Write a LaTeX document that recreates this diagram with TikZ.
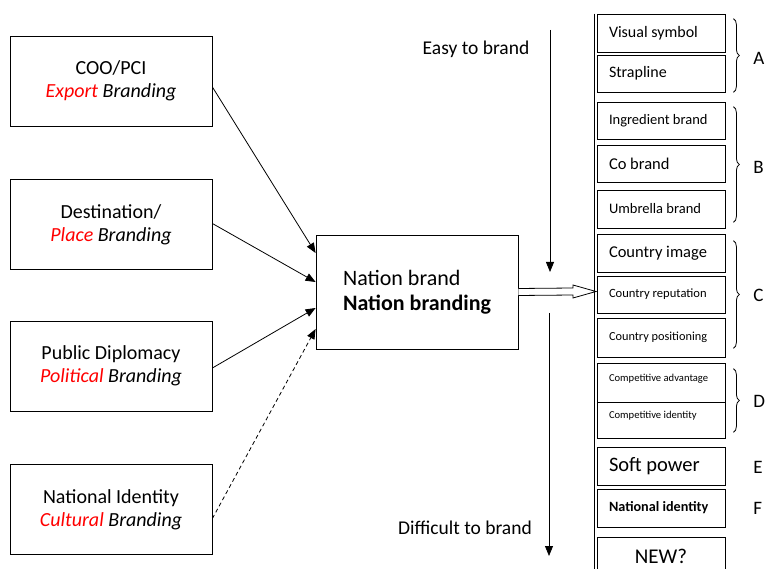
\documentclass[tikz,border=0pt]{standalone}
\usepackage{fontspec}
\setmainfont{Carlito}
\usetikzlibrary{arrows.meta,calc,decorations.pathreplacing}
\definecolor{BrandRed}{rgb}{1,0,0}

\begin{document}
\begin{tikzpicture}[x=1pt,y=-1pt,line width=0.8pt,
  src/.style={draw,minimum width=202pt,minimum height=90pt,align=center,font=\fontsize{20}{23}\selectfont},
  cell/.style={draw,minimum width=128pt,minimum height=38pt,text width=104pt,inner xsep=12pt,align=flush left},
  feed/.style={-{Triangle[length=10pt,width=8pt]}},
  grp/.style={decorate,decoration={brace,amplitude=6pt}},
  tag/.style={anchor=west,inner sep=0pt,font=\fontsize{19}{19}\selectfont}]
\useasboundingbox (0,0) rectangle (766,569);

% sources
\node[src] (coo) at (111,81) {COO/PCI\\\textcolor{BrandRed}{\textit{Export}} \textit{Branding}};
\node[src] (dest) at (111,224.5) {Destination/\\\textcolor{BrandRed}{\textit{Place}} \textit{Branding}};
\node[src] (dipl) at (111,366) {Public Diplomacy\\\textcolor{BrandRed}{\textit{Political}} \textit{Branding}};
\node[src] (natid) at (111,509.5) {National Identity\\\textcolor{BrandRed}{\textit{Cultural}} \textit{Branding}};

\node[draw,minimum width=202pt,minimum height=114pt,align=left,font=\fontsize{22}{25}\selectfont] (nb) at (417,292) {Nation brand\\\textbf{Nation branding}};

\draw[feed] ([yshift=-6pt]coo.east) -- ([yshift=39pt]nb.west);
\draw[feed] ([yshift=1pt]dest.east) -- ([yshift=10pt]nb.west);
\draw[feed] ([yshift=-2pt]dipl.east) -- ([yshift=-16pt]nb.west);
\draw[feed,dashed,dash pattern=on 4pt off 3pt] ([yshift=-9pt]natid.east) -- ([yshift=-37pt]nb.west);

% easy / difficult
\coordinate (e0) at (550,30);
\coordinate (e1) at (550,272);
\coordinate (d0) at (549,313);
\coordinate (d1) at (549,556);
\draw[feed] (e0) -- (e1);
\draw[feed] (d0) -- (d1);
\node[font=\fontsize{19.5}{20}\selectfont] (easy) at (476,49) {Easy to brand};
\node[font=\fontsize{19.5}{20}\selectfont] (hard) at (465,528) {Difficult to brand};

% stack
\node[cell,font=\fontsize{16}{16}\selectfont] (vs) at (661,33) {Visual symbol};
\node[cell,font=\fontsize{16}{16}\selectfont,minimum height=37pt] (sl) at (661,73.5) {Strapline};
\node[cell,font=\fontsize{14.5}{15}\selectfont,minimum height=37pt] (ib) at (661,120.5) {Ingredient brand};
\node[cell,font=\fontsize{16.5}{17}\selectfont,minimum height=37pt] (cb) at (661,163.5) {Co brand};
\node[cell,font=\fontsize{14.5}{15}\selectfont] (ub) at (661,209) {Umbrella brand};
\node[cell,font=\fontsize{16.5}{17}\selectfont] (ci) at (661,253) {Country image};
\node[cell,font=\fontsize{12.6}{13}\selectfont,minimum height=37pt] (cr) at (661,294.5) {Country reputation};
\node[cell,font=\fontsize{12.3}{13}\selectfont,minimum height=39pt] (cp) at (661,337.5) {Country positioning};
\node[cell,font=\fontsize{10.6}{11}\selectfont,minimum height=39pt,text depth=9pt] (ca) at (661,382.5) {Competitive advantage};
\node[cell,font=\fontsize{10.6}{11}\selectfont,minimum height=36pt,text depth=11pt] (cid) at (661,420) {Competitive identity};
\node[cell,font=\fontsize{20.5}{21}\selectfont] (sp) at (661,466) {Soft power};
\node[cell,font=\bfseries\fontsize{14.2}{15}\selectfont] (ni) at (661,508) {National identity};
\node[cell,font=\fontsize{21}{21}\selectfont,align=center] (nw) at (661,556) {NEW?};

\draw ([xshift=-2pt]vs.north west) -- ++(0,556);

% nation brand to stack
\coordinate (tip) at (596,291.5);
\draw[fill=white] ([yshift=3.5pt]nb.east) -- ($(tip)+(-23,-3.5)$) -- ($(tip)+(-23,-6.5)$) -- (tip)
  -- ($(tip)+(-23,6.5)$) -- ($(tip)+(-23,3.5)$) -- ([yshift=-3.5pt]nb.east);

% groups
\draw[grp] ([xshift=8pt,yshift=-5pt]vs.north east) -- ([xshift=8pt]sl.south east);
\draw[grp] ([xshift=8pt,yshift=-5pt]ib.north east) -- ([xshift=8pt,yshift=6pt]ub.south east);
\draw[grp] ([xshift=8pt,yshift=-7pt]ci.north east) -- ([xshift=8pt,yshift=9pt]cp.south east);
\draw[grp] ([xshift=8pt,yshift=-6pt]ca.north east) -- ([xshift=8pt,yshift=6pt]cid.south east);
\node[tag] (ga) at (753,58) {A};
\node[tag] (gb) at (753,167) {B};
\node[tag] (gc) at (753,295) {C};
\node[tag] (gd) at (753,401) {D};
\node[tag] (ge) at (753,467) {E};
\node[tag] (gf) at (753,508) {F};
\end{tikzpicture}
\end{document}
